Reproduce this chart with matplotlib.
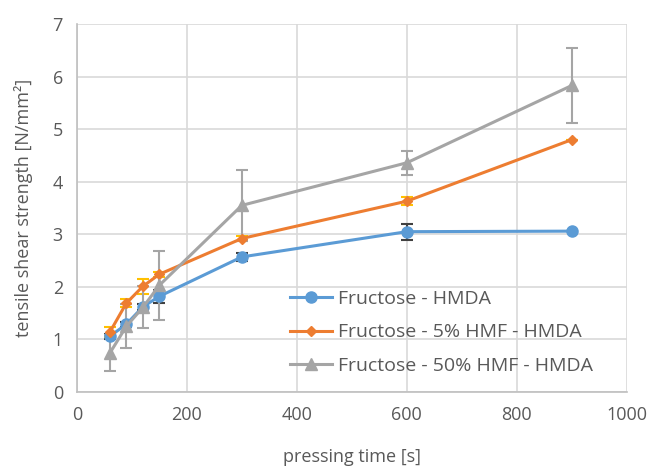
import numpy as np
from matplotlib import pyplot as plt

plt.rcParams['font.family'] = ['Open Sans', 'DejaVu Sans']

# pressing time [s]
tempo = [60, 90, 120, 150, 300, 600, 900]

# Fructose - HMDA
hmda = [1.06, 1.29, 1.62, 1.82, 2.57, 3.05, 3.06]
hmda_err = [0.05, 0.05, 0.06, 0.12, 0.08, 0.15, 0.0]

# Fructose - 5% HMF - HMDA
hmf5 = [1.14, 1.69, 2.01, 2.24, 2.92, 3.63, 4.80]
hmf5_err = [0.10, 0.08, 0.14, 0.05, 0.04, 0.07, 0.0]

# Fructose - 50% HMF - HMDA
hmf50 = [0.74, 1.25, 1.61, 2.03, 3.55, 4.36, 5.83]
hmf50_err = [0.34, 0.42, 0.40, 0.65, 0.67, 0.23, 0.72]

cor_texto = '#595959'

fig = plt.figure(figsize=(6.51, 4.69), dpi=100)
ax = fig.add_axes([0.118, 0.164, 0.845, 0.785])

# series: label, values, errors, line colour, errorbar colour, marker
series = [
    ('Fructose - HMDA', hmda, hmda_err, '#5B9BD5', '#404040', 'o', 8),
    ('Fructose - 5% HMF - HMDA', hmf5, hmf5_err, '#ED7D31', '#FFC000', 'D', 5),
    ('Fructose - 50% HMF - HMDA', hmf50, hmf50_err, '#A5A5A5', '#A5A5A5', '^', 8),
]

for label, vals, errs, cor, cor_err, mk, ms in series:
    ax.errorbar(tempo, vals, yerr=errs, fmt='none', ecolor=cor_err,
                elinewidth=1.5, capsize=4, capthick=1.5, zorder=2)
    ax.plot(tempo, vals, '-', marker=mk, color=cor, lw=2.2, ms=ms,
            label=label, zorder=3)

ax.set_xlim(0, 1000)
ax.set_ylim(0, 7)
ax.set_xticks(np.arange(0, 1001, 200))
ax.set_yticks(np.arange(0, 8, 1))
ax.grid(True, color='#D9D9D9', lw=1.2)
ax.set_axisbelow(True)
for s in ['top', 'right']:
    ax.spines[s].set_visible(False)
for s in ['left', 'bottom']:
    ax.spines[s].set_color('#BFBFBF')
    ax.spines[s].set_linewidth(1.2)
ax.tick_params(length=0, labelsize=13, labelcolor=cor_texto, pad=10)

ax.set_xlabel('pressing time [s]', fontsize=13, color=cor_texto, labelpad=17)
ax.set_ylabel('tensile shear strength [N/mm²]', fontsize=13,
              color=cor_texto, labelpad=14)

leg = ax.legend(loc='lower left', bbox_to_anchor=(0.355, 0.0), frameon=False,
                fontsize=14, handlelength=2.2, handletextpad=0.3,
                labelspacing=0.78, labelcolor=cor_texto)

fig.savefig('out.png', dpi=100)
